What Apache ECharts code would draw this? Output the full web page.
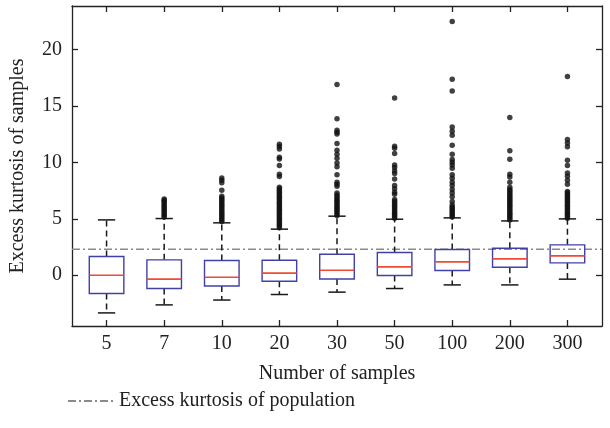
<!DOCTYPE html>
<html>
<head>
<meta charset="utf-8">
<script src="https://cdn.jsdelivr.net/npm/echarts@6/dist/echarts.min.js"></script>
<style>
  html, body { margin: 0; padding: 0; background: #fff; }
  #chart { width: 610px; height: 428px; }
</style>
</head>
<body>
<div id="chart"></div>
<script>
// Sample sizes along the x axis
const categories = ['5', '7', '10', '20', '30', '50', '100', '200', '300'];

// Box statistics per sample size
const whiskerLow = [-3.34, -2.63, -2.20, -1.71, -1.50, -1.18, -0.86, -0.86, -0.35];
const quartile1  = [-1.62, -1.18, -0.95, -0.53, -0.33, -0.03,  0.42,  0.71,  1.09];
const medians    = [ 0.00, -0.35, -0.18,  0.18,  0.44,  0.74,  1.18,  1.45,  1.71];
const quartile3  = [ 1.66,  1.36,  1.30,  1.33,  1.86,  2.01,  2.28,  2.39,  2.69];
const whiskerHigh= [ 4.90,  5.02,  4.64,  4.08,  5.23,  4.96,  5.08,  4.81,  4.99];

// Outlying sample kurtosis values per sample size
const outliers = [
  [],
  [5.15, 5.3, 5.45, 5.6, 5.75, 5.9, 6.05, 6.2, 6.35, 6.5, 6.65, 6.75],
  [8.62, 8.42, 8.18, 7.53, 4.75, 4.9, 5.05, 5.2, 5.35, 5.5, 5.65, 5.8, 5.95, 6.1, 6.25, 6.4, 6.55, 6.7, 6.85, 7.0],
  [11.61, 11.4, 11.19, 10.45, 10.3, 9.72, 8.95, 8.75, 4.2, 4.35, 4.5, 4.65, 4.8, 4.95, 5.1, 5.25, 5.4, 5.55, 5.7, 5.85,
   6.0, 6.15, 6.3, 6.45, 6.6, 6.75, 6.9, 7.05, 7.2, 7.35, 7.5, 7.65, 7.8],
  [16.9, 13.85, 12.85, 12.67, 12.5, 11.67, 11.08, 10.72, 10.37, 9.95, 9.6, 8.89, 8.24, 8.06, 7.89, 7.29, 7.11,
   5.3, 5.45, 5.6, 5.75, 5.9, 6.05, 6.2, 6.35, 6.5, 6.65, 6.8, 6.94],
  [15.71, 11.43, 11.25, 10.78, 9.77, 9.54, 9.24, 9.01, 8.53, 7.95, 7.65, 7.35, 7.18, 6.71,
   5.05, 5.2, 5.35, 5.5, 5.65, 5.8, 5.95, 6.1, 6.25, 6.4, 6.55],
  [22.48, 17.37, 16.33, 13.14, 12.76, 12.41, 11.52, 10.72, 10.25, 10.01, 9.77, 9.48, 8.89, 8.6, 8.24, 7.95, 7.59,
   7.29, 6.94, 6.53, 6.23, 5.15, 5.3, 5.45, 5.6, 5.75, 5.9, 6.05],
  [13.97, 11.02, 10.28, 8.95, 8.71, 8.24, 4.9, 5.05, 5.2, 5.35, 5.5, 5.65, 5.8, 5.95, 6.1, 6.25, 6.4, 6.55, 6.7,
   6.85, 7.0, 7.15, 7.3, 7.45, 7.6, 7.8],
  [17.6, 12.02, 11.72, 11.37, 10.19, 9.72, 9.06, 8.77, 8.42, 8.06, 5.05, 5.2, 5.35, 5.5, 5.65, 5.8, 5.95, 6.1,
   6.25, 6.4, 6.55, 6.7, 6.85, 7.0, 7.15, 7.3, 7.41]
];

// Excess kurtosis of the population (reference line)
const populationKurtosis = 2.3;

// Y tick labels
const yTicks = [0, 5, 10, 15, 20];

const xMin = 0.4, xMax = 9.6;
const yMin = -4.5, yMax = 23.85;
const positions = categories.map((c, i) => i + 1);

const boxData = categories.map((c, i) => [i + 1, whiskerLow[i], quartile1[i], medians[i], quartile3[i], whiskerHigh[i]]);
const outlierData = [];
outliers.forEach((vals, i) => vals.forEach(v => outlierData.push([i + 1, v])));

const FONT = '"Liberation Serif", "DejaVu Serif", serif';
const INK = '#222';

function renderBox(params, api) {
  const x = api.value(0);
  const lo = api.coord([x, api.value(1)]);
  const q1 = api.coord([x, api.value(2)]);
  const md = api.coord([x, api.value(3)]);
  const q3 = api.coord([x, api.value(4)]);
  const hi = api.coord([x, api.value(5)]);
  const boxW = api.size([0.6, 0])[0];
  const capW = api.size([0.3, 0])[0];
  const cx = lo[0];
  const dash = { stroke: '#1a1a1a', lineWidth: 1.5, lineDash: [6, 4] };
  const solid = { stroke: '#1a1a1a', lineWidth: 1.5 };
  return {
    type: 'group',
    children: [
      { type: 'line', shape: { x1: cx, y1: q3[1], x2: cx, y2: hi[1] }, style: dash },
      { type: 'line', shape: { x1: cx, y1: q1[1], x2: cx, y2: lo[1] }, style: dash },
      { type: 'line', shape: { x1: cx - capW / 2, y1: hi[1], x2: cx + capW / 2, y2: hi[1] }, style: solid },
      { type: 'line', shape: { x1: cx - capW / 2, y1: lo[1], x2: cx + capW / 2, y2: lo[1] }, style: solid },
      { type: 'rect', shape: { x: cx - boxW / 2, y: q3[1], width: boxW, height: q1[1] - q3[1] },
        style: { fill: 'none', stroke: '#4040a8', lineWidth: 1.4 } },
      { type: 'line', shape: { x1: cx - boxW / 2, y1: md[1], x2: cx + boxW / 2, y2: md[1] },
        style: { stroke: '#ee4a35', lineWidth: 1.6 } }
    ]
  };
}

const chart = echarts.init(document.getElementById('chart'), null, { renderer: 'canvas' });
chart.setOption({
  animation: false,
  backgroundColor: '#fff',
  textStyle: { fontFamily: FONT },
  grid: { left: 72, right: 8, top: 6, bottom: 102, show: false },
  legend: {
    data: ['Excess kurtosis of population'],
    left: 62, top: 386,
    itemWidth: 46, itemHeight: 14,
    itemStyle: { color: 'transparent', borderWidth: 0, opacity: 0 },
    textStyle: { fontFamily: FONT, fontSize: 20, color: INK }
  },
  xAxis: [
    {
      type: 'value', min: xMin, max: xMax, position: 'bottom',
      name: 'Number of samples', nameLocation: 'middle', nameGap: 38,
      nameTextStyle: { fontFamily: FONT, fontSize: 20, color: INK },
      axisLine: { show: true, onZero: false, lineStyle: { color: INK, width: 1.3 } },
      axisTick: { show: true, inside: true, length: 6, customValues: positions, lineStyle: { color: INK, width: 1.3 } },
      axisLabel: { show: true, customValues: positions, margin: 8, fontFamily: FONT, fontSize: 20, color: INK,
        formatter: v => categories[Math.round(v) - 1] },
      splitLine: { show: false }
    },
    {
      type: 'value', min: xMin, max: xMax, position: 'top',
      axisLine: { show: true, onZero: false, lineStyle: { color: INK, width: 1.3 } },
      axisTick: { show: true, inside: true, length: 6, customValues: positions, lineStyle: { color: INK, width: 1.3 } },
      axisLabel: { show: false },
      splitLine: { show: false }
    }
  ],
  yAxis: [
    {
      type: 'value', min: yMin, max: yMax, position: 'left',
      name: 'Excess kurtosis of samples', nameLocation: 'middle', nameGap: 44,
      nameTextStyle: { fontFamily: FONT, fontSize: 20, color: INK },
      axisLine: { show: true, onZero: false, lineStyle: { color: INK, width: 1.3 } },
      axisTick: { show: true, inside: true, length: 6, customValues: yTicks, lineStyle: { color: INK, width: 1.3 } },
      axisLabel: { show: true, customValues: yTicks, margin: 10, fontFamily: FONT, fontSize: 20, color: INK },
      splitLine: { show: false }
    },
    {
      type: 'value', min: yMin, max: yMax, position: 'right',
      axisLine: { show: true, onZero: false, lineStyle: { color: INK, width: 1.3 } },
      axisTick: { show: true, inside: true, length: 6, customValues: yTicks, lineStyle: { color: INK, width: 1.3 } },
      axisLabel: { show: false },
      splitLine: { show: false }
    }
  ],
  series: [
    {
      name: 'Excess kurtosis of population',
      type: 'line',
      data: [[xMin, populationKurtosis], [xMax, populationKurtosis]],
      symbol: 'none',
      lineStyle: { color: '#8a8a8a', width: 1.4, type: [8, 3, 2, 3] },
      itemStyle: { color: '#8a8a8a' },
      z: 1
    },
    {
      name: 'boxes',
      type: 'custom',
      renderItem: renderBox,
      data: boxData,
      encode: { x: 0, y: [1, 2, 3, 4, 5] },
      z: 3
    },
    {
      name: 'outliers',
      type: 'scatter',
      data: outlierData,
      symbol: 'circle',
      symbolSize: 5.5,
      itemStyle: { color: '#111' },
      z: 4
    }
  ]
});
</script>
</body>
</html>
